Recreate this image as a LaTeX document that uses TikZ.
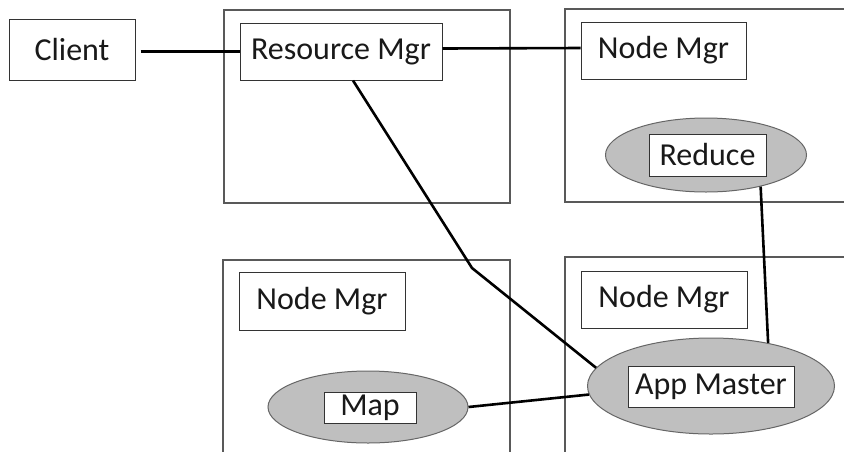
\documentclass[tikz,border=0pt]{standalone}
\usepackage{fontspec}
\setmainfont{Carlito}
\usetikzlibrary{shapes.geometric}
\begin{document}
\begin{tikzpicture}[x=1pt,y=-1pt,
  container/.style={draw=black!65,line width=1.1pt,fill=none,inner sep=0pt},
  label/.style={draw=black!80,line width=1pt,fill=white,inner sep=0pt,font=\fontsize{32}{38}\selectfont,text=black!90},
  proc/.style={ellipse,draw=black!60,line width=1pt,fill=black!25,inner sep=0pt},
  conn/.style={draw=black,line width=2.6pt}]
\useasboundingbox (0,0) rectangle (844,451);
\clip (0,0) rectangle (844,451);
\fill[white] (0,0) rectangle (844,451);
% containers
\node[container,minimum width=286pt,minimum height=193pt] (boxA) at (367,106.5) {};
\node[container,minimum width=295pt,minimum height=193pt] (boxB) at (712.5,105.5) {};
\node[container,minimum width=287pt,minimum height=210pt] (boxC) at (366.5,365) {};
\node[container,minimum width=295pt,minimum height=213pt] (boxD) at (712.5,363.5) {};
% labels
\node[label,minimum width=126pt,minimum height=61pt] (client) at (72,49.5) {Client};
\node[label,minimum width=202pt,minimum height=57pt] (rm) at (341,51.5) {Resource Mgr};
\node[label,minimum width=165pt,minimum height=57pt] (nmA) at (663.5,50.5) {Node Mgr};
\node[label,minimum width=166pt,minimum height=58pt] (nmC) at (322,301) {Node Mgr};
\node[label,minimum width=166pt,minimum height=57pt] (nmD) at (664,299.5) {Node Mgr};
% processes
\node[proc,minimum width=201pt,minimum height=74pt] (reduceE) at (706,155) {};
\node[label,minimum width=117pt,minimum height=42pt] (reduce) at (707.5,155) {Reduce};
\node[proc,minimum width=200pt,minimum height=72pt] (mapE) at (368,407) {};
\node[label,minimum width=92pt,minimum height=31pt] (map) at (370,407.5) {Map};
\node[proc,minimum width=247pt,minimum height=96pt] (amE) at (711,386) {};
\node[label,minimum width=166pt,minimum height=41pt] (am) at (711,386.5) {App Master};
% connectors
\coordinate (bend) at (472,268);
\draw[conn,shorten <=5pt] (client.east |- rm.west) -- (rm.west);
\draw[conn] ([yshift=3pt]rm.east) -- ([yshift=2.5pt]nmA.west);
\draw[conn,line join=round] ([xshift=12pt]rm.south) -- (bend) -- (amE.171);
\draw[conn] (mapE.east) -- (amE.184);
\draw[conn] (reduceE.-30) -- (amE.37);
\end{tikzpicture}
\end{document}
